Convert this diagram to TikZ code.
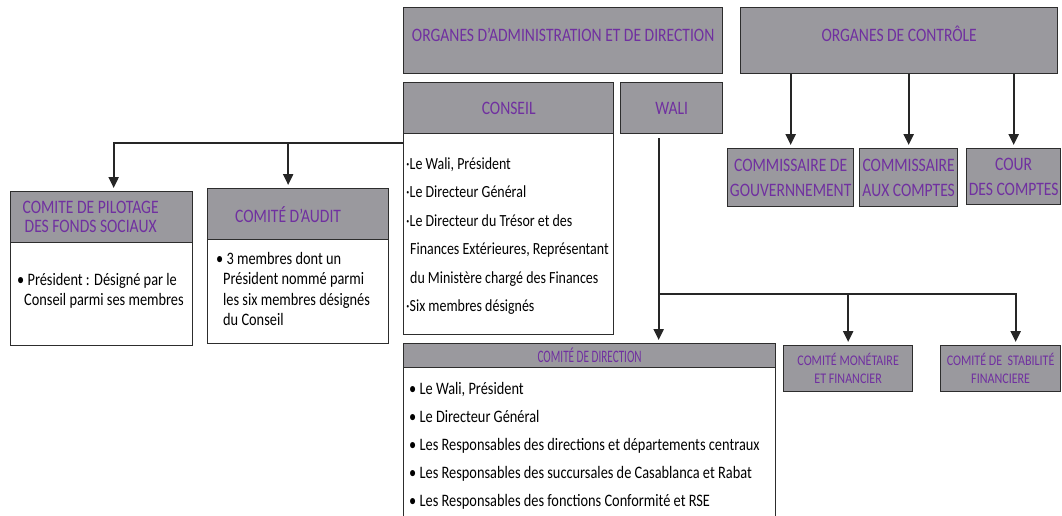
\documentclass[tikz,border=0pt]{standalone}
\usepackage{fontspec}
\setmainfont{Carlito}[FakeStretch=0.82]
\newfontfamily\narrowfont{Carlito}[FakeStretch=0.64]
\usetikzlibrary{positioning}
\usetikzlibrary{arrows.meta}
\usetikzlibrary{calc}

\definecolor{boxgray}{RGB}{154,153,158}
\definecolor{titlepurple}{RGB}{112,48,160}
\definecolor{edgegray}{RGB}{45,45,45}

\begin{document}
\begin{tikzpicture}[x=1pt, y=-1pt,
        every node/.style={font=\fontsize{17.5}{20.5}\selectfont},
        arrow/.style={-{Triangle[length=11pt,width=10pt]}, line width=2.2pt, draw=black!85, shorten >=3pt},
        head/.style={draw=edgegray, line width=1.3pt, fill=boxgray, text=titlepurple, anchor=north west, inner sep=0pt, align=center, font=\fontsize{19}{25}\selectfont},
        body/.style={draw=edgegray, line width=1.2pt, fill=white, anchor=north west, inner sep=0pt},
        title/.style={text=titlepurple, align=center, inner sep=0pt, font=\fontsize{19}{19}\selectfont},
        lines/.style={anchor=north west, align=left, inner sep=0pt}
    ]

        \useasboundingbox (0,0) rectangle (1062,515);

        % -------------------------------------------------
        % Organes d'administration et de direction
        % -------------------------------------------------
        \node[head, minimum width=319, minimum height=66, text height=13pt, text depth=11pt] (admin) at (403,7)
            {ORGANES D’ADMINISTRATION ET DE DIRECTION};

        % Conseil
        \node[body, minimum width=210, minimum height=201] (cbody) at (403,133) {};
        \node[head, minimum width=210, minimum height=51] (conseil) at (403,82) {CONSEIL};
        \node[lines, font=\fontsize{17}{28.5}\selectfont] (ctext) at (406,157)
            {·Le Wali, Président\\
             ·Le Directeur Général\\
             ·Le Directeur du Trésor et des\\
             \hspace{4pt}Finances Extérieures, Représentant\\
             \hspace{4pt}du Ministère chargé des Finances\\
             ·Six membres désignés};

        % Wali
        \node[head, minimum width=102, minimum height=51] (wali) at (620,82) {WALI};

        % -------------------------------------------------
        % Comites du Conseil
        % -------------------------------------------------
        \node[body, minimum width=182, minimum height=103] (pilbody) at (10,242) {};
        \node[head, minimum width=182, minimum height=51] (pilhead) at (10,191) {};
        \node[title] (piltitle) at ($(pilhead.center)+(-11,0)$) {COMITE DE PILOTAGE\\DES FONDS SOCIAUX};
        \node[lines] (piltext) at (17,273)
            {• Président : Désigné par le\\
             \hspace{7pt}Conseil parmi ses membres};

        \node[body, minimum width=181, minimum height=104] (audbody) at (207,239) {};
        \node[head, minimum width=181, minimum height=51] (audhead) at (207,188) {};
        \node[title] (audtitle) at ($(audhead.center)+(-10,0)$) {COMITÉ D’AUDIT};
        \node[lines] (audtext) at (216,252)
            {• 3 membres dont un\\
             \hspace{7pt}Président nommé parmi\\
             \hspace{7pt}les six membres désignés\\
             \hspace{7pt}du Conseil};

        % Fleches du Conseil
        \coordinate (cjoin) at ([yshift=-10pt]cbody.north west);
        \coordinate (audin) at ([xshift=-10pt]audhead.north);
        \draw[arrow] (cjoin) -| ([xshift=12pt]pilhead.north);
        \draw[arrow] (audin |- cjoin) -- (audin);

        % -------------------------------------------------
        % Comite de direction et comites du Wali
        % -------------------------------------------------
        \node[body, minimum width=372, minimum height=170] (codirbody) at (403,367) {};
        \node[head, minimum width=372, minimum height=24, font=\fontsize{17.5}{20}\selectfont] (codir) at (403,343)
            {\narrowfont COMITÉ DE DIRECTION};
        \node[lines, font=\fontsize{17.5}{28}\selectfont] (codirtext) at (409,382)
            {• Le Wali, Président\\
             • Le Directeur Général\\
             • Les Responsables des directions et départements centraux\\
             • Les Responsables des succursales de Casablanca et Rabat\\
             • Les Responsables des fonctions Conformité et RSE};

        \node[head, minimum width=129, minimum height=46, font=\fontsize{14.7}{18}\selectfont] (mone) at (783,345)
            {COMITÉ MONÉTAIRE\\ET FINANCIER};
        \node[head, minimum width=120, minimum height=46, font=\fontsize{14.7}{18}\selectfont] (stab) at (940,345)
            {COMITÉ DE \ STABILITÉ\\FINANCIERE};

        % Fleches du Wali
        \coordinate (walout) at ([xshift=-13pt, yshift=-4pt]wali.south);
        \coordinate (walfork) at ([yshift=-156pt]walout);
        \draw[arrow] (walout) -- (walout |- codir.north);
        \draw[arrow] (walfork) -| ([xshift=15pt]stab.north);
        \draw[arrow] (walfork -| mone.north) -- (mone.north);

        % -------------------------------------------------
        % Organes de controle
        % -------------------------------------------------
        \node[head, minimum width=317, minimum height=66, text height=13pt, text depth=11pt] (ctrl) at (740,7)
            {ORGANES DE CONTRÔLE};

        \node[head, minimum width=126, minimum height=58] (gouv) at (727,148)
            {COMMISSAIRE DE\\GOUVERNNEMENT};
        \node[head, minimum width=98, minimum height=58] (aux) at (859,148)
            {COMMISSAIRE\\AUX COMPTES};
        \node[head, minimum width=94, minimum height=56] (cour) at (966,148)
            {COUR\\DES COMPTES};

        \draw[arrow] (gouv.north |- ctrl.south) -- (gouv.north);
        \draw[arrow] (aux.north |- ctrl.south) -- (aux.north);
        \draw[arrow] (cour.north |- ctrl.south) -- (cour.north);

    \end{tikzpicture}
\end{document}
